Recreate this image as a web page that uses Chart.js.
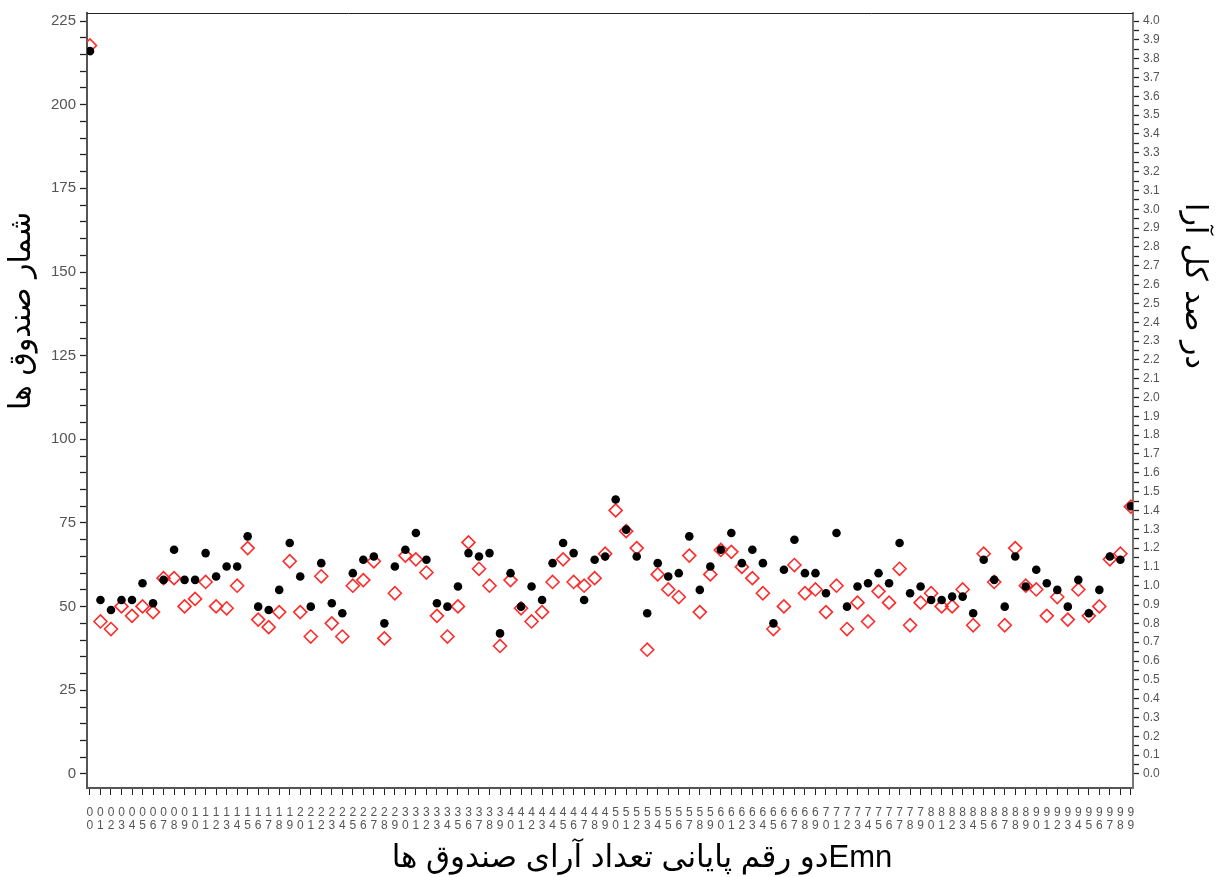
<!DOCTYPE html>
<html>
<head>
<meta charset="utf-8">
<script src="https://cdn.jsdelivr.net/npm/chart.js@4.4.1/dist/chart.umd.min.js"></script>
<style>
  html, body { margin: 0; padding: 0; background: #ffffff; }
  #wrap { width: 1216px; height: 877px; position: relative; }
</style>
</head>
<body>
<div id="wrap"><canvas id="c"></canvas></div>
<script>
const categories = [
  '00','01','02','03','04','05','06','07','08','09',
  '10','11','12','13','14','15','16','17','18','19',
  '20','21','22','23','24','25','26','27','28','29',
  '30','31','32','33','34','35','36','37','38','39',
  '40','41','42','43','44','45','46','47','48','49',
  '50','51','52','53','54','55','56','57','58','59',
  '60','61','62','63','64','65','66','67','68','69',
  '70','71','72','73','74','75','76','77','78','79',
  '80','81','82','83','84','85','86','87','88','89',
  '90','91','92','93','94','95','96','97','98','99'
];

// black dots: number of ballot boxes (left axis)
const boxCounts = [
  216,52,49,52,52,57,51,58,67,58,
  58,66,59,62,62,71,50,49,55,69,
  59,50,63,51,48,60,64,65,45,62,
  67,72,64,51,50,56,66,65,66,42,
  60,50,56,52,63,69,66,52,64,65,
  82,73,65,48,63,59,60,71,55,62,
  67,72,63,67,63,45,61,70,60,60,
  54,72,50,56,57,60,57,69,54,56,
  52,52,53,53,48,64,58,50,65,56,
  61,57,55,50,58,48,55,65,64,80
];

// red diamonds: percent of total votes (right axis)
const votePercents = [
  3.87,0.81,0.77,0.89,0.84,0.89,0.86,1.04,1.04,0.89,
  0.93,1.02,0.89,0.88,1.00,1.20,0.82,0.78,0.86,1.13,
  0.86,0.73,1.05,0.80,0.73,1.00,1.03,1.13,0.72,0.96,
  1.16,1.14,1.07,0.84,0.73,0.89,1.23,1.09,1.00,0.68,
  1.03,0.88,0.81,0.86,1.02,1.14,1.02,1.00,1.04,1.17,
  1.40,1.29,1.20,0.66,1.06,0.98,0.94,1.16,0.86,1.06,
  1.19,1.18,1.10,1.04,0.96,0.77,0.89,1.11,0.96,0.98,
  0.86,1.00,0.77,0.91,0.81,0.97,0.91,1.09,0.79,0.91,
  0.96,0.89,0.89,0.98,0.79,1.17,1.02,0.79,1.20,1.00,
  0.98,0.84,0.94,0.82,0.98,0.84,0.89,1.14,1.17,1.42
];

const leftTicks = [0,5,10,15,20,25,30,35,40,45,50,55,60,65,70,75,80,85,90,95,100,105,110,115,120,125,130,135,140,145,150,155,160,165,170,175,180,185,190,195,200,205,210,215,220,225];
const leftLabelStep = 25;
const rightTicks = [0.0,0.05,0.1,0.15,0.2,0.25,0.3,0.35,0.4,0.45,0.5,0.55,0.6,0.65,0.7,0.75,0.8,0.85,0.9,0.95,1.0,1.05,1.1,1.15,1.2,1.25,1.3,1.35,1.4,1.45,1.5,1.55,1.6,1.65,1.7,1.75,1.8,1.85,1.9,1.95,2.0,2.05,2.1,2.15,2.2,2.25,2.3,2.35,2.4,2.45,2.5,2.55,2.6,2.65,2.7,2.75,2.8,2.85,2.9,2.95,3.0,3.05,3.1,3.15,3.2,3.25,3.3,3.35,3.4,3.45,3.5,3.55,3.6,3.65,3.7,3.75,3.8,3.85,3.9,3.95,4.0];

const leftTitle = 'شمار صندوق ها';
const rightTitle = 'در صد کل آرا';
const xTitle = 'دو رقم پایانی تعداد آرای صندوق هاEmn';

const LEFT_MIN = -4.2, LEFT_MAX = 227.4;
const RATIO = 56.25; // left units per right unit

const sideTitles = {
  id: 'sideTitles',
  afterDraw(chart) {
    const ctx = chart.ctx;
    const ca = chart.chartArea;
    ctx.save();
    // top border of plot
    ctx.strokeStyle = '#222';
    ctx.lineWidth = 1;
    ctx.beginPath();
    ctx.moveTo(ca.left, ca.top + 0.5);
    ctx.lineTo(ca.right, ca.top + 0.5);
    ctx.stroke();
    ctx.fillStyle = '#000';
    ctx.textAlign = 'center';
    ctx.textBaseline = 'middle';
    ctx.font = '30px "DejaVu Sans", "Liberation Sans", sans-serif';
    ctx.save();
    ctx.translate(22, 311);
    ctx.rotate(-Math.PI / 2);
    ctx.fillText(leftTitle, 0, 0);
    ctx.restore();
    ctx.save();
    ctx.translate(1194, 286);
    ctx.rotate(Math.PI / 2);
    ctx.fillText(rightTitle, 0, 0);
    ctx.restore();
    // x axis title
    ctx.font = '31px "Liberation Sans", "DejaVu Sans", sans-serif';
    ctx.fillText(xTitle, 642, 858);
    ctx.restore();
  }
};

const ctx = document.getElementById('c');
new Chart(ctx, {
  type: 'scatter',
  data: {
    datasets: [
      {
        label: 'شمار صندوق ها',
        data: boxCounts.map((v, i) => ({ x: i, y: v })),
        yAxisID: 'y',
        pointStyle: 'circle',
        pointRadius: 4.3,
        pointHoverRadius: 4.3,
        backgroundColor: '#000000',
        borderColor: '#000000',
        borderWidth: 0
      },
      {
        label: 'در صد کل آرا',
        data: votePercents.map((v, i) => ({ x: i, y: v })),
        yAxisID: 'y2',
        pointStyle: 'rectRot',
        pointRadius: 6.5,
        pointHoverRadius: 6.5,
        backgroundColor: 'rgba(0,0,0,0)',
        borderColor: '#ff2a2a',
        borderWidth: 1.6
      }
    ]
  },
  options: {
    responsive: true,
    maintainAspectRatio: false,
    animation: false,
    layout: { padding: { top: 10, left: 0, right: 0, bottom: 0 } },
    plugins: {
      legend: { display: false },
      tooltip: { enabled: false }
    },
    scales: {
      x: {
        type: 'linear',
        position: 'bottom',
        min: -0.28,
        max: 99.2,
        afterBuildTicks: (s) => { s.ticks = categories.map((c, i) => ({ value: i })); },
        afterFit: (s) => { s.height = 89; },
        ticks: {
          autoSkip: false,
          maxRotation: 0,
          minRotation: 0,
          padding: 11,
          color: '#555',
          font: { family: '"Liberation Sans", Arial, sans-serif', size: 12, lineHeight: 1.1 },
          callback: (v) => { const c = categories[Math.round(v)]; return c ? [c[0], c[1]] : ''; }
        },
        grid: { drawOnChartArea: false, drawTicks: true, tickLength: 7, tickColor: '#222', tickWidth: 1 },
        border: { display: true, color: '#555', width: 2 },
        title: { display: false }
      },
      y: {
        type: 'linear',
        position: 'left',
        min: LEFT_MIN,
        max: LEFT_MAX,
        afterBuildTicks: (s) => { s.ticks = leftTicks.map(v => ({ value: v })); },
        afterFit: (s) => { s.width = 87; },
        ticks: {
          autoSkip: false,
          padding: 4,
          color: '#555',
          font: { family: '"Liberation Sans", Arial, sans-serif', size: 15 },
          callback: (v) => (v % leftLabelStep === 0 ? String(v) : '')
        },
        grid: { drawOnChartArea: false, drawTicks: true, tickLength: 7, tickColor: '#222', tickWidth: 1.3 },
        border: { display: true, color: '#555', width: 2 }
      },
      y2: {
        type: 'linear',
        position: 'right',
        min: LEFT_MIN / RATIO,
        max: LEFT_MAX / RATIO,
        afterBuildTicks: (s) => { s.ticks = rightTicks.map(v => ({ value: v })); },
        afterFit: (s) => { s.width = 83; },
        ticks: {
          autoSkip: false,
          padding: 4,
          color: '#555',
          font: { family: '"Liberation Sans", Arial, sans-serif', size: 12 },
          callback: (v) => (Math.round(v * 100) % 10 === 0 ? v.toFixed(1) : '')
        },
        grid: { drawOnChartArea: false, drawTicks: true, tickLength: 6, tickColor: '#222', tickWidth: 1.3 },
        border: { display: true, color: '#777', width: 2 }
      }
    }
  },
  plugins: [sideTitles]
});
</script>
</body>
</html>
